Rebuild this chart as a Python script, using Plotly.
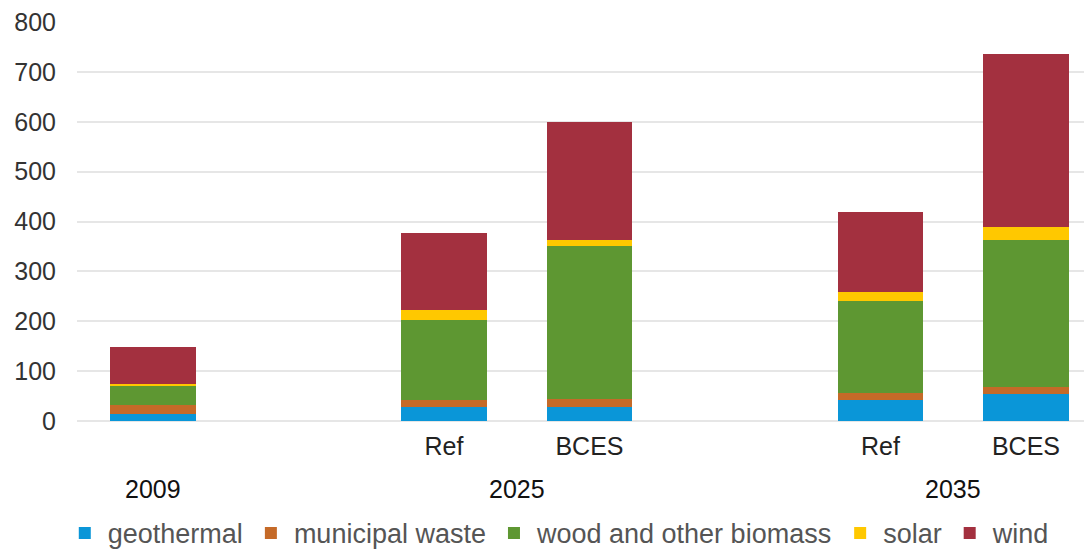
import plotly.graph_objects as go

# slot positions: 2009 | (gap) | 2025 Ref, BCES | (gap) | 2035 Ref, BCES
positions = [0, 2, 3, 5, 6]
scenario_labels = ["", "Ref", "BCES", "Ref", "BCES"]
year_labels = ["2009", "2025", "2035"]
year_positions = [0, 2.5, 5.5]

geothermal = [14, 28, 28, 42, 54]
municipal_waste = [18, 14, 17, 15, 15]
biomass = [40, 161, 305, 183, 294]
solar = [2, 19, 13, 19, 26]
wind = [74, 155, 237, 160, 346]

series = [
    ("geothermal", geothermal, "#0a96d8"),
    ("municipal waste", municipal_waste, "#c56a28"),
    ("wood and other biomass", biomass, "#5e9732"),
    ("solar", solar, "#ffc800"),
    ("wind", wind, "#a3303f"),
]

fig = go.Figure()
for name, vals, col in series:
    fig.add_trace(go.Bar(x=positions, y=vals, name=name, marker_color=col,
                         marker_line_width=0, width=0.59))

font_family = "Liberation Sans, Arial, sans-serif"

fig.update_layout(
    barmode="stack",
    width=1084, height=551,
    margin=dict(l=77, r=0, t=22, b=130, autoexpand=False),
    plot_bgcolor="white", paper_bgcolor="white",
    font=dict(family=font_family, size=25, color="#222222"),
    showlegend=True,
    legend=dict(orientation="h", x=0.057, xref="container", xanchor="left",
                y=0.032, yref="container", yanchor="middle",
                font=dict(size=27, color="#555555"), traceorder="normal",
                itemwidth=36, tracegroupgap=0),
    xaxis=dict(range=[-0.522, 6.399], tickmode="array", tickvals=positions,
               ticktext=scenario_labels, showgrid=False, zeroline=False,
               showline=False, ticks="", ticklabelstandoff=8, automargin=False,
               tickfont=dict(size=25, color="#222222")),
    yaxis=dict(range=[0, 800], dtick=100, showgrid=True, gridcolor="#e6e6e6",
               gridwidth=2, zeroline=True, zerolinecolor="#e6e6e6", zerolinewidth=2,
               showline=False, ticks="", ticklabelstandoff=20, automargin=False,
               tickfont=dict(size=25, color="#333333")),
)

for lab, pos in zip(year_labels, year_positions):
    fig.add_annotation(x=pos, xref="x", y=-0.170, yref="paper", text=lab,
                       showarrow=False, yanchor="middle", xanchor="center",
                       font=dict(size=25, color="#111111", family=font_family))

fig.write_html("out.html")
